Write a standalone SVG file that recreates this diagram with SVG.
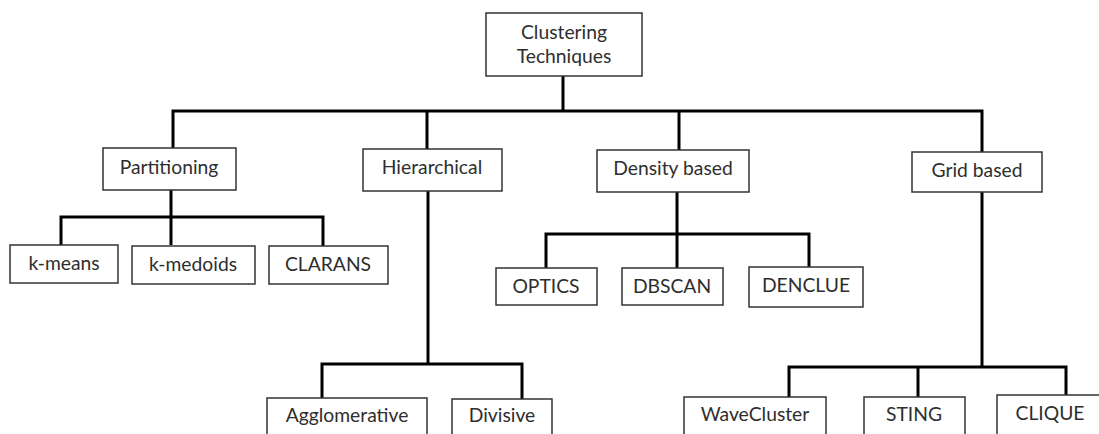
<svg xmlns="http://www.w3.org/2000/svg" width="1099" height="434" viewBox="0 0 1099 434">
  <style>
    .box { fill: #ffffff; stroke: #333333; stroke-width: 1.5; }
    .lbl { font-family: Lato, "Open Sans", sans-serif; font-size: 19.3px; fill: #2e2e2e; text-anchor: middle; }
    .wire { fill: none; stroke: #000000; stroke-width: 3; stroke-linejoin: miter; stroke-linecap: butt; }
  </style>
  <rect width="1099" height="434" fill="#ffffff"/>

  <!-- connectors -->
  <g id="connectors">
    <!-- root to categories -->
    <path class="wire" d="M563 76 V111"/>
    <path class="wire" d="M173 148 V111 H982 V152"/>
    <path class="wire" d="M427 111 V149"/>
    <path class="wire" d="M679 111 V150"/>
    <!-- partitioning -->
    <path class="wire" d="M171 190 V245"/>
    <path class="wire" d="M61 245 V217 H323 V246"/>
    <!-- hierarchical -->
    <path class="wire" d="M428 191 V364"/>
    <path class="wire" d="M322 398 V364 H522 V399"/>
    <!-- density based -->
    <path class="wire" d="M677 192 V268"/>
    <path class="wire" d="M546 268 V234 H809 V267"/>
    <!-- grid based -->
    <path class="wire" d="M982 192 V367"/>
    <path class="wire" d="M789 397 V367 H1066 V395"/>
    <path class="wire" d="M918 367 V397"/>
  </g>

  <g id="root">
    <rect class="box" x="486" y="13" width="156" height="63"/>
    <text class="lbl" x="564" y="39">Clustering</text>
    <text class="lbl" x="564" y="63">Techniques</text>
  </g>

  <g id="partitioning">
    <rect class="box" x="103" y="148" width="133" height="42"/>
    <text class="lbl" x="169" y="174">Partitioning</text>
  </g>
  <g id="kmeans">
    <rect class="box" x="10" y="245" width="108" height="38"/>
    <text class="lbl" x="64" y="270">k-means</text>
  </g>
  <g id="kmedoids">
    <rect class="box" x="132" y="246" width="123" height="38"/>
    <text class="lbl" x="193" y="271">k-medoids</text>
  </g>
  <g id="clarans">
    <rect class="box" x="269" y="246" width="119" height="38"/>
    <text class="lbl" x="328" y="271">CLARANS</text>
  </g>

  <g id="hierarchical">
    <rect class="box" x="363" y="149" width="139" height="42"/>
    <text class="lbl" x="432" y="174">Hierarchical</text>
  </g>
  <g id="agglomerative">
    <rect class="box" x="267" y="398" width="160" height="50"/>
    <text class="lbl" x="347" y="422">Agglomerative</text>
  </g>
  <g id="divisive">
    <rect class="box" x="452" y="399" width="100" height="50"/>
    <text class="lbl" x="502" y="422">Divisive</text>
  </g>

  <g id="density">
    <rect class="box" x="597" y="150" width="152" height="42"/>
    <text class="lbl" x="673" y="175">Density based</text>
  </g>
  <g id="optics">
    <rect class="box" x="496" y="268" width="101" height="37"/>
    <text class="lbl" x="546" y="293">OPTICS</text>
  </g>
  <g id="dbscan">
    <rect class="box" x="622" y="268" width="101" height="37"/>
    <text class="lbl" x="672" y="293">DBSCAN</text>
  </g>
  <g id="denclue">
    <rect class="box" x="749" y="267" width="114" height="40"/>
    <text class="lbl" x="806" y="292">DENCLUE</text>
  </g>

  <g id="grid">
    <rect class="box" x="912" y="152" width="130" height="40"/>
    <text class="lbl" x="977" y="177">Grid based</text>
  </g>
  <g id="wavecluster">
    <rect class="box" x="684" y="397" width="142" height="50"/>
    <text class="lbl" x="755" y="421">WaveCluster</text>
  </g>
  <g id="sting">
    <rect class="box" x="864" y="397" width="101" height="50"/>
    <text class="lbl" x="914" y="421">STING</text>
  </g>
  <g id="clique">
    <rect class="box" x="997" y="395" width="110" height="50"/>
    <text class="lbl" x="1050" y="420">CLIQUE</text>
  </g>
</svg>
